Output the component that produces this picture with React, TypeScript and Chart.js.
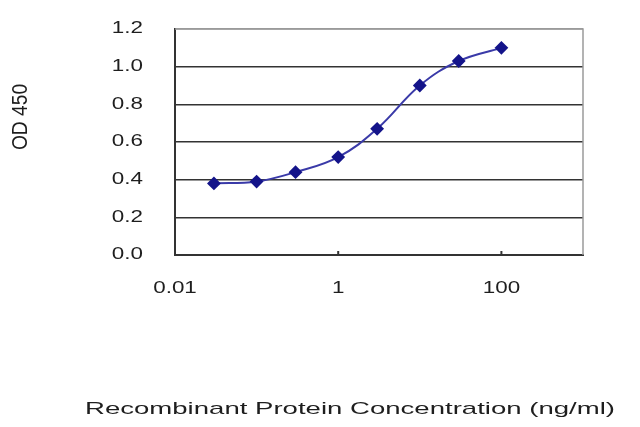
import { useEffect, useRef } from 'react';
import { Chart, registerables } from 'chart.js';
Chart.register(...registerables);

// ELISA standard curve
const concentrations = [0.03, 0.1, 0.3, 1, 3, 10, 30, 100];
const od450 = [0.38, 0.39, 0.44, 0.52, 0.67, 0.9, 1.03, 1.1];
const xTickValues = [0.01, 1, 100];
const yTickValues = [0, 0.2, 0.4, 0.6, 0.8, 1.0, 1.2];
const xTitle = 'Recombinant Protein Concentration (ng/ml)';
const yTitle = 'OD 450';

const FONT = '"Liberation Sans", Arial, sans-serif';

// the original picture is stretched sideways, so text gets a horizontal scale
function stretchedText(ctx: CanvasRenderingContext2D, text: string, px: number, py: number, align: 'left' | 'center' | 'right', sx: number) {
  const w = ctx.measureText(text).width * sx;
  const left = align === 'left' ? px : align === 'center' ? px - w / 2 : px - w;
  ctx.save();
  ctx.translate(left, py);
  ctx.scale(sx, 1);
  ctx.textAlign = 'left';
  ctx.fillText(text, 0, 0);
  ctx.restore();
}

const labelsPlugin = {
  id: 'labels',
  beforeDatasetsDraw(chart: any) {
    const { ctx, chartArea: a } = chart;
    ctx.save();
    ctx.strokeStyle = '#9a9a9a';
    ctx.lineWidth = 1.5;
    ctx.beginPath();
    ctx.moveTo(a.left, a.top);
    ctx.lineTo(a.right, a.top);
    ctx.lineTo(a.right, a.bottom);
    ctx.stroke();
    ctx.restore();
  },
  afterDraw(chart: any) {
    const { ctx, scales: { x, y }, chartArea: a } = chart;
    ctx.save();
    ctx.fillStyle = '#1e1e1e';
    ctx.textBaseline = 'middle';
    ctx.font = `16px ${FONT}`;

    yTickValues.forEach(v => {
      stretchedText(ctx, v.toFixed(1), 143, y.getPixelForValue(v), 'right', 1.4);
    });
    xTickValues.forEach(v => {
      stretchedText(ctx, String(v), x.getPixelForValue(v), 289, 'center', 1.4);
    });

    // little inside tick marks on the x axis
    ctx.strokeStyle = '#333';
    ctx.lineWidth = 2;
    xTickValues.slice(1).forEach(v => {
      const px = x.getPixelForValue(v);
      ctx.beginPath();
      ctx.moveTo(px, a.bottom);
      ctx.lineTo(px, a.bottom - 4);
      ctx.stroke();
    });

    // y title, rotated
    ctx.save();
    ctx.translate(21, 117);
    ctx.rotate(-Math.PI / 2);
    ctx.scale(1.2, 1.4);
    ctx.textAlign = 'center';
    ctx.fillText(yTitle, 0, 0);
    ctx.restore();

    // x title
    ctx.font = `17px ${FONT}`;
    const w = ctx.measureText(xTitle).width;
    stretchedText(ctx, xTitle, 350, 409, 'center', 530 / w);
    ctx.restore();
  },
};

export default function App() {
  const canvasRef = useRef<HTMLCanvasElement>(null);

  useEffect(() => {
    document.body.style.margin = '0';
    const chart = new Chart(canvasRef.current!, {
      type: 'line',
      data: {
        datasets: [{
          label: 'OD 450',
          data: concentrations.map((c, i) => ({ x: c, y: od450[i] })),
          borderColor: '#3a3aa8',
          borderWidth: 2,
          tension: 0.4,
          pointStyle: 'rectRot',
          pointRadius: 5.5,
          pointBackgroundColor: '#14148a',
          pointBorderColor: '#14148a',
        }],
      },
      options: {
        animation: false,
        responsive: true,
        maintainAspectRatio: false,
        layout: { padding: { top: 29, right: 57, left: 0, bottom: 0 } },
        plugins: { legend: { display: false }, tooltip: { enabled: false } },
        scales: {
          x: {
            type: 'logarithmic',
            min: 0.01,
            max: 1000,
            afterBuildTicks: (s: any) => { s.ticks = xTickValues.map(value => ({ value })); },
            afterFit: (s: any) => { s.height = 172; },
            ticks: { display: false },
            grid: { color: 'transparent', drawTicks: false },
            border: { color: '#333', width: 2 },
          },
          y: {
            min: 0,
            max: 1.2,
            afterBuildTicks: (s: any) => { s.ticks = yTickValues.map(value => ({ value })); },
            afterFit: (s: any) => { s.width = 175; },
            ticks: { display: false },
            grid: {
              drawTicks: false,
              lineWidth: 1.5,
              color: (c: any) => (c.tick && c.tick.value > 1.19 ? '#9a9a9a' : '#333'),
            },
            border: { color: '#333', width: 2 },
          },
        },
      },
      plugins: [labelsPlugin],
    });
    return () => { chart.destroy(); };
  }, []);

  return (
    <div style={{ width: 640, height: 427, position: 'relative', background: '#fff' }}>
      <canvas ref={canvasRef} />
    </div>
  );
}
